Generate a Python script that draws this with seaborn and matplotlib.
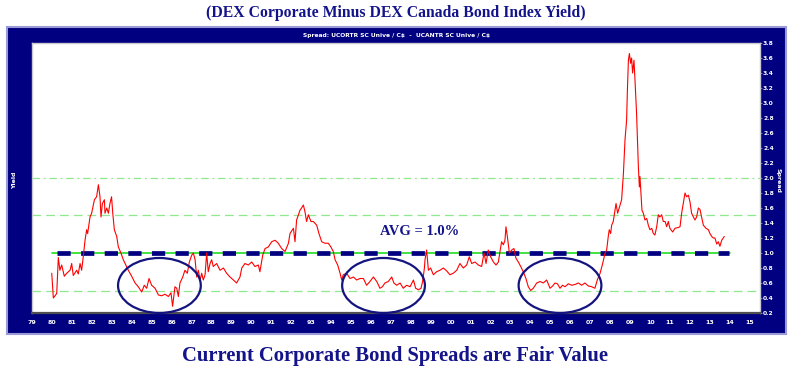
import matplotlib
matplotlib.use("Agg")
import matplotlib.pyplot as plt
from matplotlib.patches import Rectangle, Ellipse
import seaborn as sns
import pandas as pd

# ---------------- data ----------------
years_a = [1979.99, 1980.07, 1980.24, 1980.32, 1980.40, 1980.49, 1980.62, 1980.74, 1980.91, 1980.99,
           1981.07, 1981.24, 1981.32, 1981.41, 1981.49, 1981.58, 1981.66, 1981.74, 1981.79, 1981.91,
           1981.99, 1982.13, 1982.24, 1982.33, 1982.41, 1982.46, 1982.53, 1982.63, 1982.66, 1982.75,
           1982.83, 1982.91, 1982.99, 1983.05, 1983.13, 1983.25, 1983.33, 1983.46, 1983.58, 1983.67,
           1983.83, 1984.00, 1984.17, 1984.33, 1984.50, 1984.63, 1984.75, 1984.87, 1985.00, 1985.17,
           1985.34, 1985.50, 1985.67, 1985.84, 1985.97]
spread_a = [0.73, 0.40, 0.46, 0.94, 0.77, 0.84, 0.69, 0.73, 0.77, 0.86,
            0.70, 0.77, 0.72, 0.86, 0.77, 0.97, 1.17, 1.31, 1.26, 1.48,
            1.53, 1.71, 1.75, 1.91, 1.75, 1.48, 1.66, 1.71, 1.53, 1.60,
            1.53, 1.66, 1.75, 1.53, 1.31, 1.22, 1.08, 1.00, 0.91, 0.86,
            0.77, 0.69, 0.60, 0.55, 0.48, 0.57, 0.53, 0.66, 0.57, 0.53,
            0.44, 0.43, 0.45, 0.42, 0.47]

years_b = [1986.05, 1986.17, 1986.26, 1986.34, 1986.42, 1986.56, 1986.67, 1986.79, 1986.89, 1987.01,
           1987.09, 1987.18, 1987.26, 1987.34, 1987.43, 1987.51, 1987.59, 1987.68, 1987.76, 1987.84,
           1987.93, 1988.01, 1988.09, 1988.26, 1988.43, 1988.60, 1988.76, 1988.93, 1989.10, 1989.26,
           1989.43, 1989.52, 1989.68, 1989.85, 1990.02, 1990.18, 1990.35, 1990.43, 1990.57, 1990.69,
           1990.85, 1991.02, 1991.19, 1991.35, 1991.52, 1991.69, 1991.86, 1991.94, 1992.11, 1992.19,
           1992.27, 1992.36]
spread_b = [0.29, 0.55, 0.53, 0.42, 0.60, 0.68, 0.77, 0.73, 0.88, 0.97,
            1.00, 0.91, 0.68, 0.77, 0.64, 0.73, 0.64, 0.71, 1.00, 0.75,
            0.86, 0.91, 0.82, 0.86, 0.77, 0.80, 0.73, 0.68, 0.64, 0.60,
            0.68, 0.80, 0.86, 0.84, 0.88, 0.82, 0.84, 0.75, 0.97, 1.06,
            1.08, 1.15, 1.17, 1.13, 1.06, 1.02, 1.13, 1.26, 1.33, 1.15,
            1.44, 1.51]

years_c = [1992.44, 1992.52, 1992.61, 1992.69, 1992.77, 1992.86, 1992.99, 1993.11, 1993.28, 1993.39,
           1993.53, 1993.69, 1993.86, 1993.99, 1994.11, 1994.20, 1994.33, 1994.45, 1994.53, 1994.61,
           1994.78, 1994.95, 1995.12, 1995.28, 1995.45, 1995.62, 1995.78, 1995.95, 1996.12, 1996.29,
           1996.45, 1996.57, 1996.70, 1996.87, 1997.04, 1997.15, 1997.29, 1997.46, 1997.62, 1997.79,
           1997.96, 1998.13, 1998.24, 1998.38, 1998.51, 1998.59, 1998.68]
spread_c = [1.57, 1.60, 1.64, 1.55, 1.42, 1.51, 1.42, 1.42, 1.37, 1.26,
            1.15, 1.13, 1.13, 1.08, 1.02, 0.91, 0.84, 0.73, 0.64, 0.71,
            0.73, 0.66, 0.68, 0.64, 0.66, 0.66, 0.57, 0.62, 0.68, 0.62,
            0.53, 0.55, 0.60, 0.62, 0.68, 0.60, 0.57, 0.60, 0.53, 0.57,
            0.55, 0.64, 0.53, 0.51, 0.53, 0.62, 0.80]

years_d = [1998.71, 1998.79, 1998.88, 1998.99, 1999.13, 1999.29, 1999.46, 1999.63, 1999.80, 1999.96,
           2000.13, 2000.30, 2000.46, 2000.63, 2000.80, 2000.93, 2001.05, 2001.22, 2001.38, 2001.55,
           2001.67, 2001.77, 2001.88, 2002.00, 2002.14, 2002.27, 2002.39, 2002.47, 2002.55, 2002.64,
           2002.72, 2002.77, 2002.84, 2002.94, 2003.06, 2003.17, 2003.27, 2003.39, 2003.51, 2003.64,
           2003.77, 2003.89, 2004.01, 2004.14, 2004.31, 2004.48, 2004.64]
spread_d = [0.91, 1.04, 0.77, 0.80, 0.71, 0.75, 0.77, 0.80, 0.76, 0.71,
            0.73, 0.77, 0.86, 0.80, 0.84, 0.95, 0.86, 0.88, 0.84, 0.82,
            1.00, 0.86, 1.04, 0.95, 0.88, 0.84, 0.88, 1.02, 1.15, 1.11,
            1.17, 1.35, 1.22, 1.00, 1.04, 1.06, 0.93, 0.88, 0.82, 0.75,
            0.66, 0.55, 0.50, 0.53, 0.60, 0.62, 0.60]

years_e = [2004.81, 2004.98, 2005.11, 2005.23, 2005.35, 2005.48, 2005.61, 2005.73, 2005.90, 2006.06,
           2006.23, 2006.40, 2006.57, 2006.73, 2006.90, 2007.07, 2007.23, 2007.35, 2007.49, 2007.62,
           2007.74, 2007.82, 2007.90, 2007.95, 2008.02, 2008.07, 2008.15, 2008.24, 2008.29, 2008.37,
           2008.49, 2008.57, 2008.66, 2008.74, 2008.82, 2008.86, 2008.91, 2008.96, 2009.02, 2009.07,
           2009.12, 2009.19, 2009.24, 2009.32, 2009.41]
spread_e = [0.64, 0.53, 0.56, 0.60, 0.59, 0.53, 0.57, 0.55, 0.59, 0.57,
            0.58, 0.60, 0.57, 0.60, 0.56, 0.55, 0.53, 0.64, 0.73, 0.86,
            1.00, 1.04, 1.22, 1.31, 1.26, 1.37, 1.42, 1.57, 1.66, 1.53,
            1.64, 1.71, 2.06, 2.51, 2.77, 3.17, 3.57, 3.66, 3.53, 3.60,
            3.40, 3.57, 3.31, 2.86, 2.15]

years_f = [2009.46, 2009.49, 2009.54, 2009.59, 2009.66, 2009.74, 2009.83, 2009.91, 2009.99, 2010.08,
           2010.16, 2010.24, 2010.33, 2010.41, 2010.49, 2010.58, 2010.66, 2010.75, 2010.83, 2010.91,
           2010.99, 2011.13, 2011.25, 2011.41, 2011.50, 2011.58, 2011.66, 2011.75, 2011.83, 2011.92,
           2012.00, 2012.08, 2012.17, 2012.25, 2012.33, 2012.42, 2012.50, 2012.58, 2012.67, 2012.80,
           2012.92, 2013.00, 2013.09, 2013.17, 2013.25, 2013.34, 2013.42, 2013.50, 2013.59, 2013.67,
           2013.72]
spread_f = [1.88, 2.02, 1.80, 1.57, 1.53, 1.44, 1.46, 1.37, 1.31, 1.33,
            1.26, 1.24, 1.35, 1.51, 1.48, 1.51, 1.42, 1.42, 1.35, 1.42,
            1.33, 1.28, 1.33, 1.34, 1.35, 1.53, 1.66, 1.80, 1.75, 1.77,
            1.68, 1.53, 1.48, 1.44, 1.48, 1.60, 1.58, 1.48, 1.37, 1.33,
            1.31, 1.26, 1.22, 1.20, 1.20, 1.12, 1.15, 1.09, 1.17, 1.20,
            1.22]

avg_value = 1.0
guide_dashed = [0.5, 1.5]
guide_dashdot = [2.0]
tick_years = list(range(1979, 2016))
tick_labels = [f"{y % 100:02d}" for y in tick_years]
y_ticks = [round(0.2 + 0.2 * i, 1) for i in range(19)]

df = pd.DataFrame({
    "year": years_a + years_b + years_c + years_d + years_e + years_f,
    "spread": spread_a + spread_b + spread_c + spread_d + spread_e + spread_f,
})

# ---------------- figure ----------------
W, H = 793, 366
NAVY = "#000080"
TXT = "#14148a"
sns.set_theme(style="white")
plt.rcParams["font.family"] = ["DejaVu Sans"]
plt.rcParams["text.usetex"] = False

fig = plt.figure(figsize=(W / 100, H / 100), dpi=100)
fig.patch.set_facecolor("white")

def fx(px):
    return px / W

def fy(py):
    return 1 - py / H

# navy panel
fig.add_artist(Rectangle((fx(7), fy(334)), fx(786 - 7), (334 - 27) / H,
                         transform=fig.transFigure, facecolor=NAVY,
                         edgecolor="#9a9ad6", linewidth=1.5, zorder=0))

ax = fig.add_axes([fx(32), fy(313), fx(728), 270 / H])
ax.set_facecolor("white")

# guide lines
for g in guide_dashed:
    ax.axhline(g, color="#8ee88e", lw=0.9, ls=(0, (7, 4)), zorder=1)
for g in guide_dashdot:
    ax.axhline(g, color="#8ee88e", lw=0.9, ls=(0, (6, 3, 1.5, 3)), zorder=1)

# average line: green solid + thick navy dashes
ax.plot([1980.0, 2014.0], [avg_value, avg_value], color="#22dd22", lw=1.2, zorder=2)
ax.plot([1980.25, 2013.95], [avg_value, avg_value], color=NAVY, lw=3.4,
        ls=(0, (2.8, 2.2)), solid_capstyle="butt", dash_capstyle="butt", zorder=3)

sns.lineplot(data=df, x="year", y="spread", ax=ax, color="#ff0000", lw=0.8,
             sort=False, estimator=None, zorder=4)

# ellipses
for cx in [1985.39, 1996.63, 2005.48]:
    ax.add_patch(Ellipse((cx, 0.567), 4.15, 0.733, fill=False, edgecolor="#141480",
                         lw=1.6, zorder=5, clip_on=False))

ax.text(1998.46, 1.28, "AVG = 1.0%", ha="center", va="center", fontsize=10.5,
        fontweight="bold", color=TXT, family="Liberation Serif", zorder=6)

ax.set_xlim(1979, 2015.51)
ax.set_ylim(0.2, 3.8)
ax.set_xticks(tick_years)
ax.set_xticklabels(tick_labels)
ax.set_yticks(y_ticks)
ax.set_yticklabels([f"{v:.1f}" for v in y_ticks])
ax.yaxis.tick_right()
ax.tick_params(axis="x", colors="white", labelsize=4.5, length=2, width=0.6, pad=3,
               color="#9090a0")
ax.tick_params(axis="y", colors="white", labelsize=4.3, length=1.2, width=0.6, pad=1,
               color="#9090a0")
for lab in ax.get_xticklabels() + ax.get_yticklabels():
    lab.set_fontweight("bold")
ax.set_xlabel("")
ax.set_ylabel("")
for s in ["top", "left", "right"]:
    ax.spines[s].set_color("#c8c8d0")
    ax.spines[s].set_linewidth(1.0)
ax.spines["bottom"].set_color("#505050")
ax.spines["bottom"].set_linewidth(1.6)

# texts
fig.text(fx(396), fy(13), "(DEX Corporate Minus DEX Canada Bond Index Yield)",
         ha="center", va="center", fontsize=11.3, fontweight="bold", color=TXT,
         family="Liberation Serif")
fig.text(fx(395), fy(356), "Current Corporate Bond Spreads are Fair Value",
         ha="center", va="center", fontsize=14.9, fontweight="bold", color=TXT,
         family="Liberation Serif")
fig.text(fx(397), fy(36), "Spread: UCORTR SC Unive / C\\$  -  UCANTR SC Unive / C\\$",
         ha="center", va="center", fontsize=4.3, fontweight="bold", color="white")
fig.text(fx(15), fy(180), "Yield", ha="center", va="center", rotation=90,
         fontsize=4.5, fontweight="bold", color="white")
fig.text(fx(778), fy(180), "Spread", ha="center", va="center", rotation=-90,
         fontsize=4.5, fontweight="bold", color="white")

fig.savefig("out.png", dpi=100)
